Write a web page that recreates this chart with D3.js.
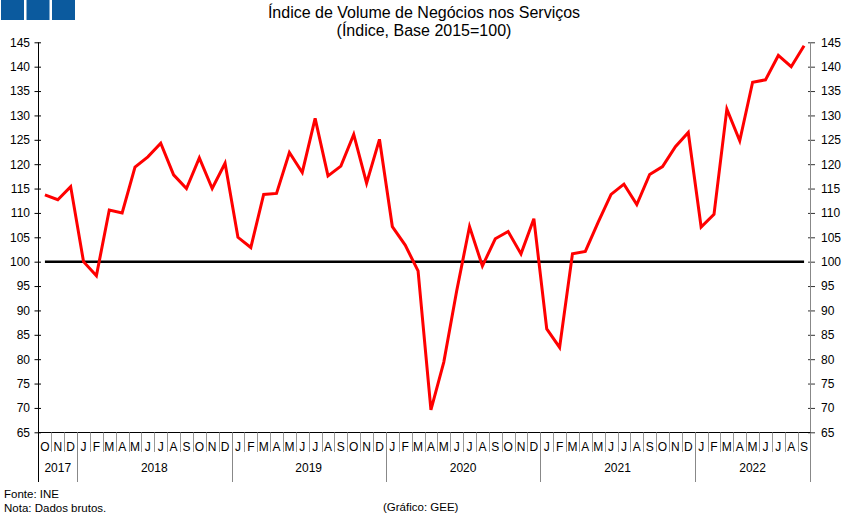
<!DOCTYPE html>
<html><head><meta charset="utf-8">
<script src="https://cdn.jsdelivr.net/npm/d3@7"></script>
<style>
html,body{margin:0;padding:0;background:#fff;}
svg{display:block;font-family:"Liberation Sans",Arial,sans-serif;}
</style></head>
<body><svg id="chart" width="851" height="518"></svg>
<script>
const titleLines = ["Índice de Volume de Negócios nos Serviços", "(Índice, Base 2015=100)"];
const monthLabels = ["O","N","D",
  "J","F","M","A","M","J","J","A","S","O","N","D",
  "J","F","M","A","M","J","J","A","S","O","N","D",
  "J","F","M","A","M","J","J","A","S","O","N","D",
  "J","F","M","A","M","J","J","A","S","O","N","D",
  "J","F","M","A","M","J","J","A","S"];
const yearLabels = ["2017","2018","2019","2020","2021","2022"];
const yearMonthCounts = [3,12,12,12,12,9];
const values = [113.7,112.7,115.4,
  100.0,97.1,110.6,110.0,119.4,121.5,124.3,117.8,115.0,121.3,115.0,120.2,
  105.0,102.9,113.8,114.0,122.4,118.3,129.4,117.6,119.6,126.1,116.1,125.1,
  107.2,103.4,98.1,69.6,79.4,94.0,107.2,99.1,104.7,106.2,101.6,108.8,
  86.2,82.4,101.6,102.1,108.1,113.8,115.9,111.7,117.9,119.5,123.6,126.5,
  107.1,109.7,131.3,124.8,136.8,137.3,142.3,140.0,144.3];
const yTicks = [65,70,75,80,85,90,95,100,105,110,115,120,125,130,135,140,145];
const baseValue = 100;
const sourceLines = ["Fonte: INE", "Nota: Dados brutos."];
const creditText = "(Gráfico: GEE)";

const svg = d3.select("#chart");
const L = 38.5, R = 810.5, T = 42.3, B = 432.3;
const idx = d3.range(values.length);
const x = d3.scaleBand().domain(idx).range([L, R]).padding(0);
const y = d3.scaleLinear().domain([65, 145]).range([B, T]);
const cx = i => x(i) + x.bandwidth() / 2;

// top-left blue squares
svg.selectAll("rect.logo").data([0,1,2]).join("rect")
  .attr("x", d => 1 + d * 25.5).attr("y", 0).attr("width", 23).attr("height", 20)
  .attr("fill", "#0b5a9e");

// title
svg.selectAll("text.title").data(titleLines).join("text")
  .attr("x", 424).attr("y", (d, i) => 18 + i * 18)
  .attr("text-anchor", "middle").attr("font-size", 16).attr("fill", "#000").text(d => d);

// left axis
const yl = d3.axisLeft(y).tickValues(yTicks).tickSize(0).tickPadding(0);
const gL = svg.append("g").attr("transform", `translate(${L},0)`).call(yl);
gL.select(".domain").remove();
gL.selectAll("text").attr("x", -8.5).attr("font-size", 12).attr("fill", "#000")
  .attr("font-family", "Liberation Sans, Arial, sans-serif");
gL.selectAll(".tick").append("line").attr("x1", -4).attr("x2", 2.5).attr("stroke", "#000");

// right axis
const yr = d3.axisRight(y).tickValues(yTicks).tickSize(0).tickPadding(0);
const gR = svg.append("g").attr("transform", `translate(${R},0)`).call(yr);
gR.select(".domain").remove();
gR.selectAll("text").attr("x", 10.5).attr("font-size", 12).attr("fill", "#000")
  .attr("font-family", "Liberation Sans, Arial, sans-serif");
gR.selectAll(".tick").append("line").attr("x1", -2.5).attr("x2", 4.5).attr("stroke", "#333");

// vertical frame lines
svg.append("line").attr("x1", L).attr("x2", L).attr("y1", T).attr("y2", 482).attr("stroke", "#000");
svg.append("line").attr("x1", R).attr("x2", R).attr("y1", T).attr("y2", 482).attr("stroke", "#888");
// bottom axis baseline
svg.append("line").attr("x1", L).attr("x2", R).attr("y1", Math.round(B) + 0.5).attr("y2", Math.round(B) + 0.5).attr("stroke", "#000");

// month separators
const yb = Math.round(B) + 0.5;
svg.selectAll("line.msep").data(idx.slice(1)).join("line")
  .attr("x1", i => Math.round(x(i)) + 0.5).attr("x2", i => Math.round(x(i)) + 0.5)
  .attr("y1", yb).attr("y2", 452).attr("stroke", "#999");
svg.selectAll("text.month").data(monthLabels).join("text")
  .attr("x", (d, i) => cx(i)).attr("y", 450.5).attr("text-anchor", "middle")
  .attr("font-size", 12).attr("fill", "#000").text(d => d);

// year groups
let acc = 0;
const yearStarts = yearMonthCounts.map(c => { const s = acc; acc += c; return s; });
svg.selectAll("line.ysep").data(yearStarts.slice(1)).join("line")
  .attr("x1", s => Math.round(x(s)) + 0.5).attr("x2", s => Math.round(x(s)) + 0.5)
  .attr("y1", yb).attr("y2", 482).attr("stroke", "#888");
svg.selectAll("text.year").data(yearLabels).join("text")
  .attr("x", (d, i) => (x(yearStarts[i]) + x(yearStarts[i] + yearMonthCounts[i] - 1) + x.bandwidth()) / 2)
  .attr("y", 471.5).attr("text-anchor", "middle").attr("font-size", 12).attr("fill", "#000").text(d => d);

// base line at 100
svg.append("line").attr("x1", cx(0)).attr("x2", cx(values.length - 1))
  .attr("y1", y(baseValue)).attr("y2", y(baseValue)).attr("stroke", "#000").attr("stroke-width", 2.5);

// data line
const line = d3.line().x((d, i) => cx(i)).y(d => y(d));
svg.append("path").datum(values).attr("d", line).attr("fill", "none")
  .attr("stroke", "#ff0000").attr("stroke-width", 3).attr("stroke-linejoin", "miter");

// footer
svg.selectAll("text.src").data(sourceLines).join("text")
  .attr("x", 4).attr("y", (d, i) => 498 + i * 13.5).attr("font-size", 11.5).attr("fill", "#000").text(d => d);
svg.append("text").attr("x", 383).attr("y", 511).attr("font-size", 11.5).attr("fill", "#000").text(creditText);
</script></body></html>
